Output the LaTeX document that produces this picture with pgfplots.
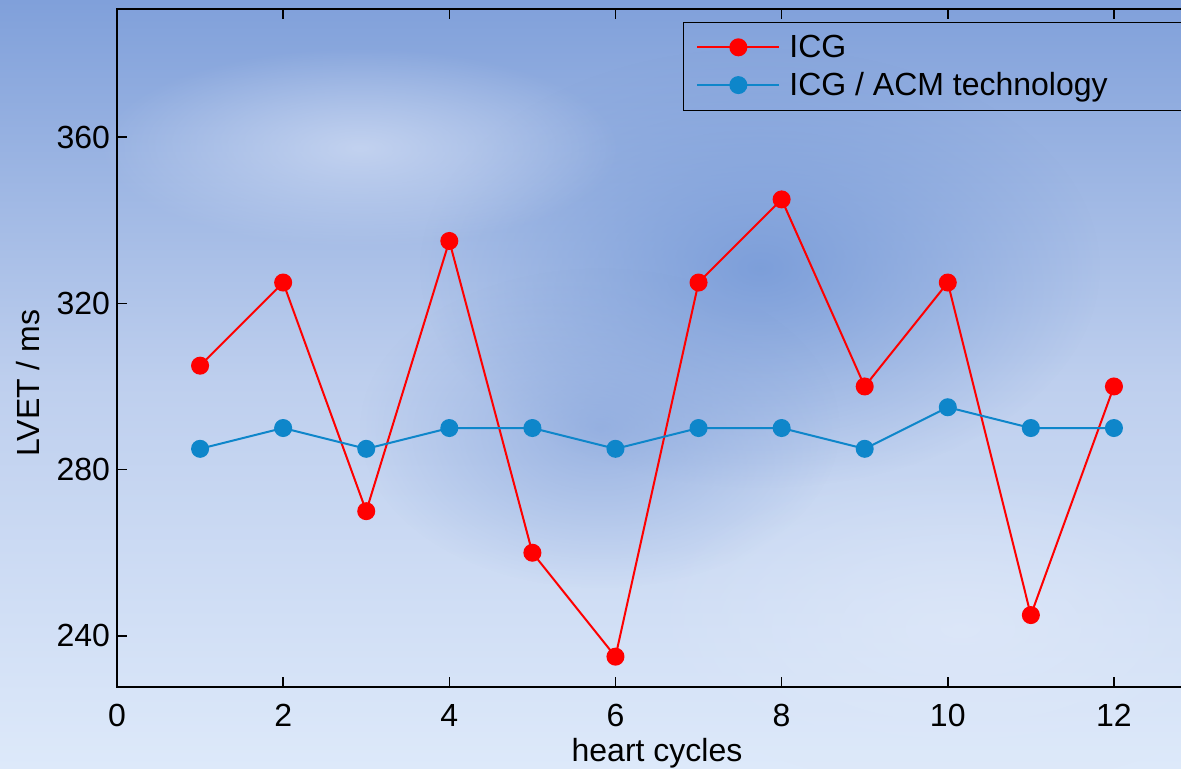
\documentclass[border=0pt]{standalone}
\usepackage{pgfplots}
\pgfplotsset{compat=1.18}
\usepackage{fontspec}
\setmainfont{Liberation Sans}
\usetikzlibrary{fadings}
\tikzfading[name=softblob, inner color=transparent!0, outer color=transparent!100]
\definecolor{icgred}{RGB}{255,0,0}
\definecolor{acmblue}{RGB}{14,134,202}
\begin{document}
\begin{tikzpicture}
\useasboundingbox (0,0) rectangle (590.5pt,384pt);
\shade[top color={rgb,255:red,128;green,160;blue,218}, bottom color={rgb,255:red,221;green,233;blue,250}, middle color={rgb,255:red,190;green,207;blue,238}] (0,0) rectangle (590.5pt,384pt);
\fill[color={rgb,255:red,120;green,155;blue,216}, path fading=softblob, fill opacity=0.9] (380pt,250pt) ellipse (170pt and 110pt);
\fill[color={rgb,255:red,135;green,165;blue,220}, path fading=softblob, fill opacity=0.7] (300pt,170pt) ellipse (120pt and 80pt);
\fill[color={rgb,255:red,205;green,218;blue,243}, path fading=softblob, fill opacity=0.8] (180pt,310pt) ellipse (130pt and 50pt);
\fill[color={rgb,255:red,222;green,232;blue,249}, path fading=softblob, fill opacity=0.8] (480pt,70pt) ellipse (160pt and 80pt);
\begin{axis}[
  at={(58.5pt,40.5pt)}, anchor=south west,
  scale only axis, width=540pt, height=339pt,
  xmin=0, xmax=13, ymin=227.7, ymax=390.8,
  xtick={0,2,...,12}, ytick={240,280,320,360},
  axis x line*=box, axis y line*=box,
  tick align=inside, major tick length=5pt,
  axis line style={line width=1pt, black},
  every tick/.style={line width=0.8pt, black},
  font=\fontsize{16}{19}\selectfont,
  /pgf/number format/assume math mode=true,
  tick label style={font=\fontsize{16}{19}\selectfont},
  xticklabel style={yshift=-5pt},
  xlabel={heart cycles}, ylabel={LVET / ms},
  xlabel style={at={(axis description cs:0.5,0)}, anchor=north, yshift=-22pt},
  ylabel style={at={(axis description cs:-0.0824,0.448)}, anchor=center},
  clip=false,
  legend style={at={(axis cs:6.81,387.66)}, anchor=north west, draw=black, line width=0.6pt, fill=none, inner xsep=6.5pt, inner ysep=4pt, row sep=2pt, font=\fontsize{16}{19}\selectfont},
  legend cell align=left,
  legend image code/.code={\draw[#1, mark repeat=2, mark phase=2] plot coordinates {(0pt,0pt) (20.5pt,0pt) (41pt,0pt)};},
  /tikz/every odd column/.append style={column sep=2.5pt},
]
\addplot[color=icgred, line width=1pt, mark=*, mark size=4pt, mark options={fill=icgred, draw=icgred}] coordinates {
(1,305) (2,325) (3,270) (4,335) (5,260) (6,235) (7,325) (8,345) (9,300) (10,325) (11,245) (12,300)};
\addlegendentry{ICG}
\addplot[color=acmblue, line width=1pt, mark=*, mark size=4pt, mark options={fill=acmblue, draw=acmblue}] coordinates {
(1,285) (2,290) (3,285) (4,290) (5,290) (6,285) (7,290) (8,290) (9,285) (10,295) (11,290) (12,290)};
\addlegendentry{ICG / ACM technology\makebox[45pt]{}}
\end{axis}
\end{tikzpicture}
\end{document}
